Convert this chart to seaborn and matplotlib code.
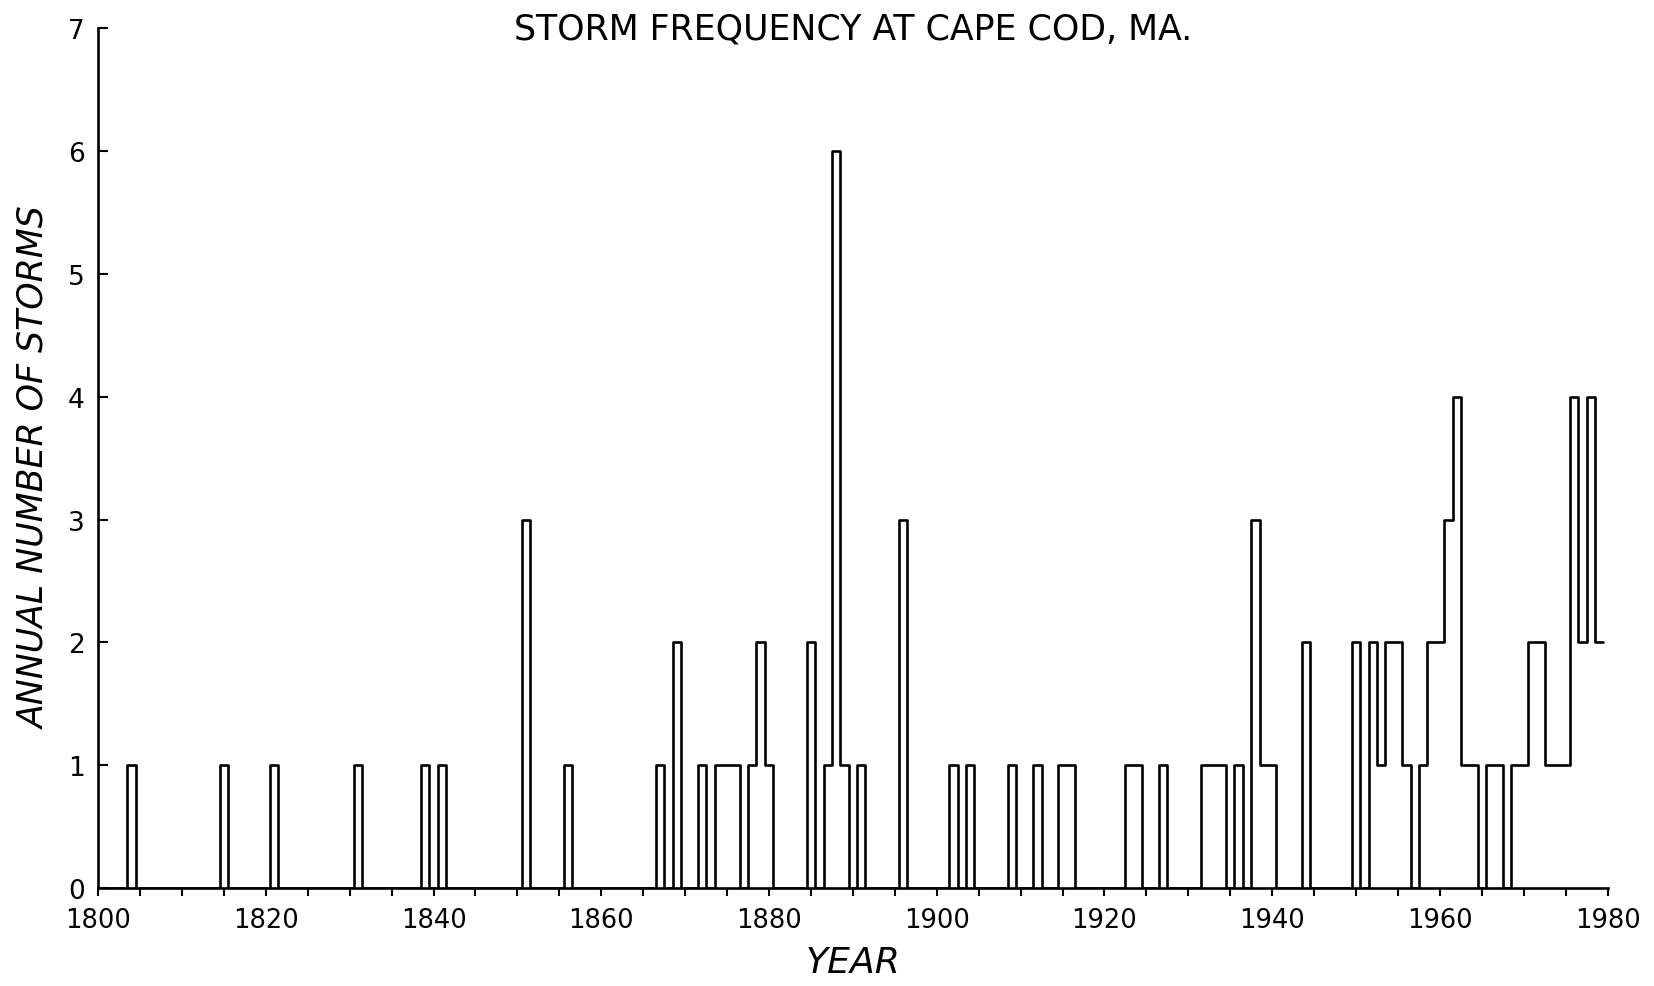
import numpy as np
import pandas as pd
import matplotlib
matplotlib.use("Agg")
import matplotlib.pyplot as plt
import seaborn as sns
from matplotlib.ticker import MultipleLocator

# ---- data (years with at least one storm; all other years have 0) ----
storm_years = [1804, 1815, 1821, 1831, 1839, 1841, 1851, 1856, 1867, 1869,
               1872, 1874, 1875, 1876, 1878, 1879, 1880, 1885, 1887, 1888,
               1889, 1891, 1896, 1902, 1904, 1909, 1912, 1915, 1916, 1923,
               1924, 1927, 1932, 1933, 1934, 1936, 1938, 1939, 1940, 1944,
               1950, 1952, 1953, 1954, 1955, 1956, 1958, 1959, 1960, 1961,
               1962, 1963, 1964, 1966, 1967, 1969, 1970, 1971, 1972, 1973,
               1974, 1975, 1976, 1977, 1978, 1979]
storm_counts = [1, 1, 1, 1, 1, 1, 3, 1, 1, 2,
                1, 1, 1, 1, 1, 2, 1, 2, 1, 6,
                1, 1, 3, 1, 1, 1, 1, 1, 1, 1,
                1, 1, 1, 1, 1, 1, 3, 1, 1, 2,
                2, 2, 1, 2, 2, 1, 1, 2, 2, 3,
                4, 1, 1, 1, 1, 1, 1, 2, 2, 1,
                1, 1, 4, 2, 4, 2]
first_year, last_year = 1800, 1979
x_ticks_major = [1800, 1820, 1840, 1860, 1880, 1900, 1920, 1940, 1960, 1980]
y_ticks = [0, 1, 2, 3, 4, 5, 6, 7]
title_text = "STORM FREQUENCY AT CAPE COD, MA."
xlabel_text = "YEAR"
ylabel_text = "ANNUAL NUMBER OF STORMS"

# full annual series
all_years = np.arange(first_year, last_year + 1)
counts = pd.Series(0, index=all_years)
counts.loc[storm_years] = storm_counts

# step outline: each year occupies [year-0.5, year+0.5]
edges = np.append(all_years - 0.5, all_years[-1] + 0.5)
vals = np.append(counts.values, counts.values[-1])
df = pd.DataFrame({"edge": edges, "count": vals})

sns.set_theme(style="ticks")
plt.rcParams["font.family"] = ["DejaVu Sans"]

fig = plt.figure(figsize=(16.54, 9.87), dpi=100)
ax = fig.add_axes([0.0593, 0.0993, 0.9127, 0.871])

sns.lineplot(data=df, x="edge", y="count", drawstyle="steps-post",
             color="black", linewidth=1.9, sort=False, estimator=None,
             errorbar=None, ax=ax)

ax.set_xlim(1800, 1980)
ax.set_ylim(0, 7)
ax.set_xticks(x_ticks_major)
ax.set_xticklabels([str(t) for t in x_ticks_major])
ax.xaxis.set_minor_locator(MultipleLocator(5))
ax.set_yticks(y_ticks)
ax.set_yticklabels([str(t) for t in y_ticks])

sns.despine(ax=ax)
for s in ["left", "bottom"]:
    ax.spines[s].set_linewidth(1.9)
    ax.spines[s].set_color("black")

ax.tick_params(axis="x", which="both", direction="out", length=6.0,
               width=1.5, color="black", labelsize=18.5, pad=7.5,
               labelcolor="black")
ax.tick_params(axis="y", which="both", direction="in", length=7.2,
               width=1.5, color="black", labelsize=19, pad=9.5,
               labelcolor="black")

ax.set_xlabel(xlabel_text, fontsize=26, fontstyle="italic", labelpad=9,
              color="black")
ax.set_ylabel(ylabel_text, fontsize=25, fontstyle="italic", color="black")
ax.yaxis.set_label_coords(-0.031, 0.49)
fig.text(0.516, 0.970, title_text, ha="center", va="center", fontsize=25,
         color="black")

fig.savefig("out.png", dpi=100)
